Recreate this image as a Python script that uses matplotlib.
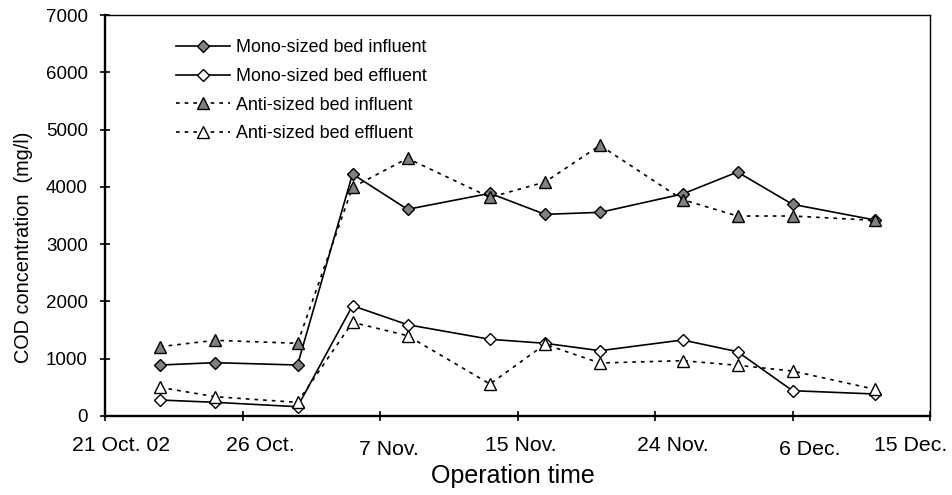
import matplotlib
matplotlib.use("Agg")
import matplotlib.pyplot as plt
import matplotlib.transforms as mtransforms

plt.rcParams['font.family'] = ['Liberation Sans', 'DejaVu Sans']

# Operation day (days after 21 Oct. 02)
days = [2, 4, 7, 9, 11, 14, 16, 18, 21, 23, 25, 28]

mono_influent = [890, 931, 890, 4224, 3608, 3887, 3520, 3555, 3875, 4259, 3695, 3421]
mono_effluent = [279, 239, 162, 1925, 1594, 1339, 1269, 1140, 1327, 1123, 442, 384]
anti_influent = [1210, 1321, 1269, 3992, 4498, 3817, 4084, 4724, 3777, 3491, 3491, 3415]
anti_effluent = [500, 337, 238, 1635, 1402, 558, 1251, 925, 966, 885, 785, 466]

tick_days = [0, 5, 10, 15, 20, 25, 30]
tick_labels = ["21 Oct. 02", "26 Oct.", "7 Nov.", "15 Nov.", "24 Nov.", "6 Dec.", "15 Dec."]
# label positions as drawn in the original (hand-placed text)
label_x = [0.575, 5.65, 10.33, 15.13, 20.64, 25.62, 29.29]
label_drop = [0, 0, 4, 0, 0, 4, 0]  # pixels lower

series_names = ["Mono-sized bed influent", "Mono-sized bed effluent",
                "Anti-sized bed influent", "Anti-sized bed effluent"]

W, H = 952, 495
fig = plt.figure(figsize=(W / 100, H / 100), dpi=100)
ax = fig.add_axes([105 / W, 1 - 416 / H, (930 - 105) / W, (416 - 15) / H])

gray = '#808080'
lw = 1.2
dash = (0, (2.2, 3.0))

ax.plot(days, mono_influent, color='black', lw=lw, marker='D', ms=6.2,
        mfc=gray, mec='black', mew=1.0, label=series_names[0], zorder=3)
ax.plot(days, mono_effluent, color='black', lw=lw, marker='D', ms=6.2,
        mfc='white', mec='black', mew=1.0, label=series_names[1], zorder=3)
ax.plot(days, anti_influent, color='black', lw=lw, ls=dash, marker='^', ms=8.7,
        mfc=gray, mec='black', mew=1.0, label=series_names[2], zorder=4)
ax.plot(days, anti_effluent, color='black', lw=lw, ls=dash, marker='^', ms=8.7,
        mfc='white', mec='black', mew=1.0, label=series_names[3], zorder=4)

ax.set_xlim(0, 30)
ax.set_ylim(0, 7000)
ax.set_yticks(range(0, 7001, 1000))
ax.set_xticks(tick_days)
ax.set_xticklabels([])
ax.tick_params(axis='both', direction='inout', length=7.7, width=1.2, labelsize=13.5)
ax.tick_params(axis='y', pad=8.5)

for sp in ['left', 'bottom']:
    ax.spines[sp].set_linewidth(1.7)
for sp in ['top', 'right']:
    ax.spines[sp].set_linewidth(1.0)

for lx, lab, drop in zip(label_x, tick_labels, label_drop):
    offset = mtransforms.ScaledTranslation(0, -drop / 100, fig.dpi_scale_trans)
    trans = ax.get_xaxis_transform() + offset
    ax.text(lx, -20 / 401, lab, transform=trans, ha='center', va='top',
            fontsize=15.3)

fig.text(513 / W, 1 - 476 / H, "Operation time", ha='center', va='center', fontsize=18)
fig.text(24 / W, 1 - 247 / H, "COD concentration  (mg/l)", ha='center', va='center',
         rotation=90, fontsize=14.3)

leg = ax.legend(loc='upper left', bbox_to_anchor=((176 - 105) / 825, (416 - 39) / 401),
                frameon=False, fontsize=12.85, handlelength=3.0, handletextpad=0.38,
                labelspacing=0.66, borderpad=0, borderaxespad=0)

fig.savefig("out.png", dpi=100)
